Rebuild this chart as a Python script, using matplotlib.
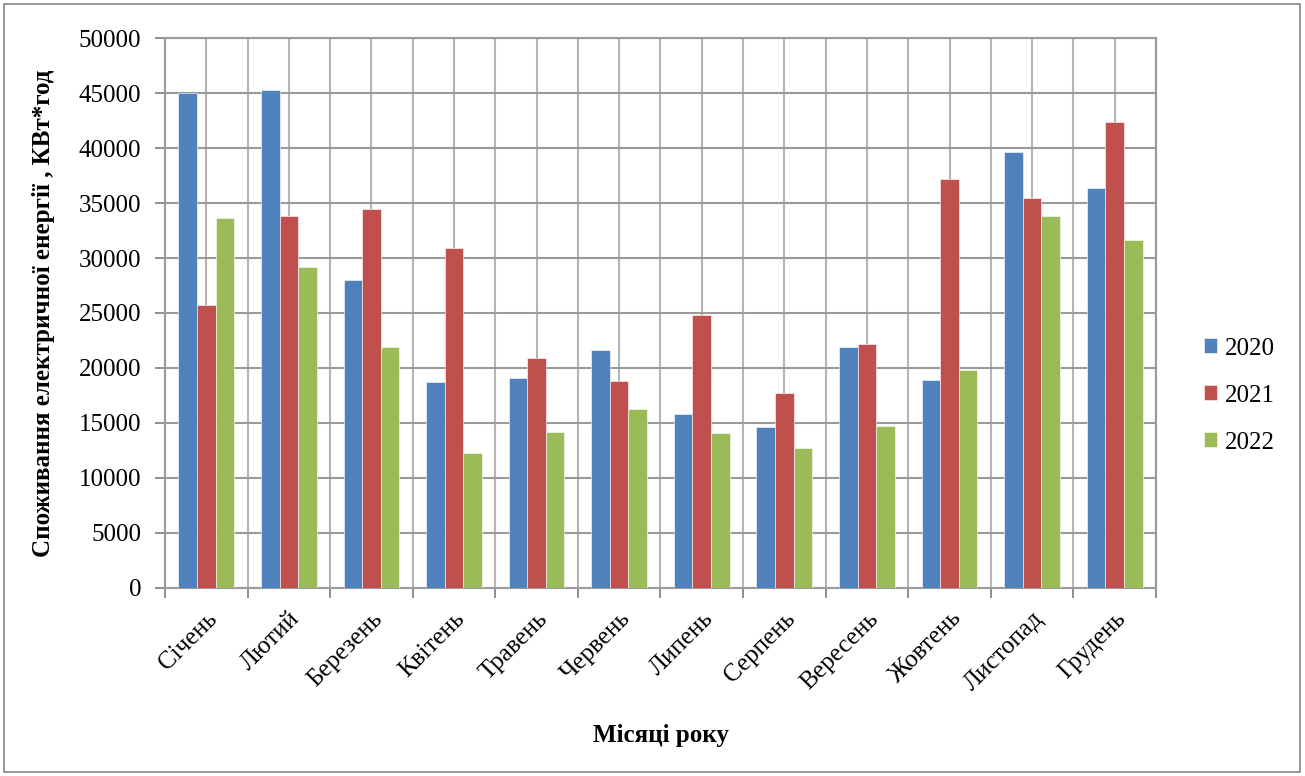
import numpy as np
import matplotlib
matplotlib.use("Agg")
import matplotlib.pyplot as plt
from matplotlib.patches import Rectangle

plt.rcParams['font.family'] = ['Liberation Serif', 'DejaVu Serif']

months = ["Січень", "Лютий", "Березень", "Квітень", "Травень", "Червень",
          "Липень", "Серпень", "Вересень", "Жовтень", "Листопад", "Грудень"]
years = ["2020", "2021", "2022"]
v2020 = [45000, 45300, 28000, 18700, 19100, 21650, 15800, 14650, 21900, 18900, 39650, 36350]
v2021 = [25700, 33850, 34450, 30950, 20900, 18850, 24850, 17750, 22200, 37200, 35450, 42350]
v2022 = [33600, 29200, 21900, 12300, 14150, 16250, 14100, 12700, 14750, 19850, 33800, 31650]
colors = ["#4F81BD", "#C0504D", "#9BBB59"]

fig = plt.figure(figsize=(13.05, 7.76), dpi=100)
ax = fig.add_axes([0.1264, 0.2423, 0.7594, 0.7087])

x = np.arange(len(months))
w = 0.225
for i, (vals, lab) in enumerate(zip([v2020, v2021, v2022], years)):
    ax.bar(x + (i - 1) * w, vals, width=w, color=colors[i], label=lab,
           edgecolor="white", linewidth=0.4, zorder=3)

ax.set_xlim(-0.5, 11.5)
ax.set_ylim(0, 50000)
ax.set_yticks(np.arange(0, 50001, 5000))
ax.set_xticks(x)
ax.set_xticklabels(months, rotation=45, ha="right", rotation_mode="anchor", fontsize=18)
ax.set_xticks(np.arange(-0.5, 12, 1), minor=True)
ax.tick_params(axis="x", which="major", length=0, pad=14)
ax.tick_params(axis="x", which="minor", length=7, color="#868686", width=1.3)
ax.tick_params(axis="y", length=7, color="#868686", width=1.3, pad=10, labelsize=18)

ax.grid(True, which="both", axis="x", color="#B5B5B5", linewidth=1.5, zorder=0)
ax.grid(True, which="major", axis="y", color="#9A9A9A", linewidth=1.5, zorder=0)
for s in ax.spines.values():
    s.set_color("#9A9A9A")
    s.set_linewidth(1.5)

ax.set_ylabel("Споживання електричної енергії , КВт*год", fontsize=18, fontweight="bold")
ax.yaxis.set_label_coords(-0.111, 0.5)
ax.set_xlabel("Місяці року", fontsize=18, fontweight="bold")
ax.xaxis.set_label_coords(0.5, -0.247)

fig.legend(loc="center left", bbox_to_anchor=(0.905, 0.490), frameon=False,
           fontsize=18, handlelength=0.55, handleheight=0.55, handletextpad=0.3,
           labelspacing=1.0)

fig.patches.append(Rectangle((0.003, 0.005), 0.993, 0.99, transform=fig.transFigure,
                             fill=False, edgecolor="#888888", linewidth=1.2))

fig.savefig("out.png", dpi=100)
